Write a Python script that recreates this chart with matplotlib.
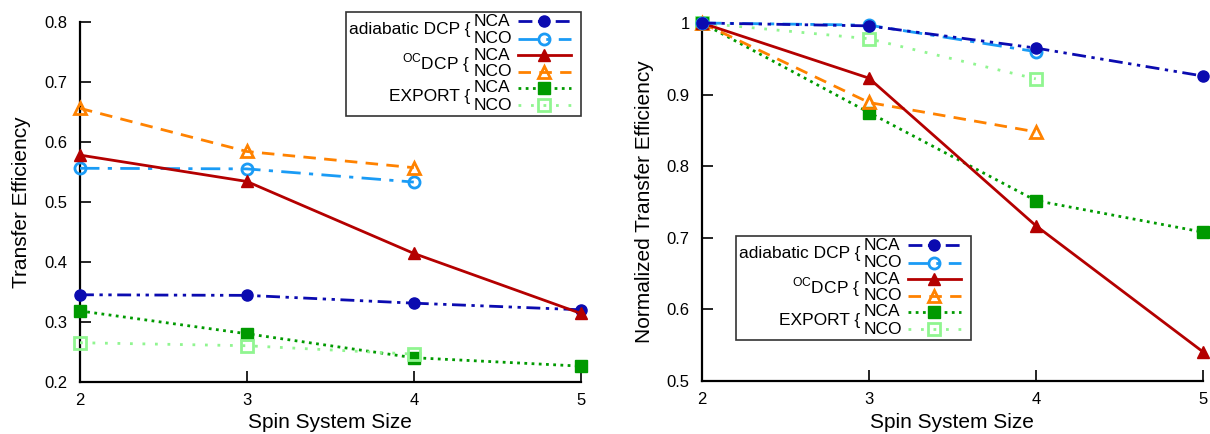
import matplotlib
matplotlib.use("Agg")
import matplotlib.pyplot as plt
from matplotlib.lines import Line2D

plt.rcParams['font.family'] = ['Liberation Sans', 'DejaVu Sans']
plt.rcParams['mathtext.fontset'] = 'custom'
plt.rcParams['mathtext.rm'] = 'Liberation Sans'

# ---------------- data ----------------
sizes = [2, 3, 4, 5]
sizes_nco = [2, 3, 4]

# absolute transfer efficiency
adia_nca = [0.345, 0.344, 0.331, 0.320]
adia_nco = [0.556, 0.555, 0.533]
oc_nca = [0.578, 0.534, 0.414, 0.314]
oc_nco = [0.656, 0.584, 0.557]
exp_nca = [0.318, 0.280, 0.240, 0.226]
exp_nco = [0.265, 0.260, 0.246]

# normalized transfer efficiency
adia_nca_n = [1.0, 0.996, 0.965, 0.926]
adia_nco_n = [1.0, 0.997, 0.960]
oc_nca_n = [1.0, 0.923, 0.717, 0.541]
oc_nco_n = [1.0, 0.889, 0.848]
exp_nca_n = [1.0, 0.875, 0.752, 0.708]
exp_nco_n = [1.0, 0.978, 0.922]

left_yticks = [0.2, 0.3, 0.4, 0.5, 0.6, 0.7, 0.8]
left_yticklabels = ['0.2', '0.3', '0.4', '0.5', '0.6', '0.7', '0.8']
right_yticks = [0.5, 0.6, 0.7, 0.8, 0.9, 1.0]
right_yticklabels = ['0.5', '0.6', '0.7', '0.8', '0.9', '1']
xticks = [2, 3, 4, 5]

# ---------------- styles ----------------
C_ADIA_NCA = '#0b0bb0'
C_ADIA_NCO = '#1a9bf5'
C_OC_NCA = '#b40000'
C_OC_NCO = '#ff8200'
C_EXP_NCA = '#009a00'
C_EXP_NCO = '#90f590'

styles = {
    'adia_nca': dict(color=C_ADIA_NCA, linestyle=(0, (5, 2, 1.2, 2, 1.2, 2)), marker='o',
                     markersize=8, markerfacecolor=C_ADIA_NCA, markeredgecolor=C_ADIA_NCA, linewidth=2),
    'adia_nco': dict(color=C_ADIA_NCO, linestyle=(0, (7, 3, 1.5, 3)), marker='o',
                     markersize=8, markerfacecolor='none', markeredgecolor=C_ADIA_NCO,
                     markeredgewidth=2, linewidth=2),
    'oc_nca': dict(color=C_OC_NCA, linestyle='-', marker='^', markersize=8,
                   markerfacecolor=C_OC_NCA, markeredgecolor=C_OC_NCA, linewidth=2),
    'oc_nco': dict(color=C_OC_NCO, linestyle=(0, (4.5, 3)), marker='^', markersize=8,
                   markerfacecolor='none', markeredgecolor=C_OC_NCO, markeredgewidth=2, linewidth=2),
    'exp_nca': dict(color=C_EXP_NCA, linestyle=(0, (1, 1.6)), marker='s', markersize=8,
                    markerfacecolor=C_EXP_NCA, markeredgecolor=C_EXP_NCA, linewidth=2),
    'exp_nco': dict(color=C_EXP_NCO, linestyle=(0, (1, 3.5)), marker='s', markersize=8,
                    markerfacecolor='none', markeredgecolor=C_EXP_NCO, markeredgewidth=2, linewidth=2),
}

W, H = 1210, 434
fig = plt.figure(figsize=(W / 100, H / 100), dpi=100)


def fx(px):
    return px / W


def fy(py):
    return 1 - py / H


ax1 = fig.add_axes([fx(80), fy(381.7), fx(580.7) - fx(80), fy(22) - fy(381.7)])
ax2 = fig.add_axes([fx(702), fy(381), fx(1202.7) - fx(702), fy(23) - fy(381)])


def setup(ax, yticks, yticklabels, ylim, ylabel, ylabelpad):
    ax.set_xlim(2, 5)
    ax.set_ylim(*ylim)
    ax.set_xticks(xticks)
    ax.set_xticklabels([str(v) for v in xticks])
    ax.set_yticks(yticks)
    ax.set_yticklabels(yticklabels)
    for s in ['top', 'right']:
        ax.spines[s].set_visible(False)
    for s in ['left', 'bottom']:
        ax.spines[s].set_linewidth(1.6)
        ax.spines[s].set_color('black')
    ax.tick_params(axis='both', direction='in', length=8, width=1.2, labelsize=12, color='black')
    ax.tick_params(axis='y', pad=9)
    ax.tick_params(axis='x', pad=8)
    ax.set_xlabel('Spin System Size', fontsize=15, labelpad=4)
    ax.set_ylabel(ylabel, fontsize=15, labelpad=ylabelpad)
    ax.set_facecolor('white')


setup(ax1, left_yticks, left_yticklabels, (0.2, 0.8), 'Transfer Efficiency', 9.5)
setup(ax2, right_yticks, right_yticklabels, (0.5, 1.0), 'Normalized Transfer Efficiency', 9)

ax1.plot(sizes, exp_nca, clip_on=False, zorder=3, **styles['exp_nca'])
ax1.plot(sizes_nco, exp_nco, clip_on=False, zorder=3, **styles['exp_nco'])
ax1.plot(sizes, adia_nca, clip_on=False, zorder=3, **styles['adia_nca'])
ax1.plot(sizes_nco, adia_nco, clip_on=False, zorder=3, **styles['adia_nco'])
ax1.plot(sizes, oc_nca, clip_on=False, zorder=3, **styles['oc_nca'])
ax1.plot(sizes_nco, oc_nco, clip_on=False, zorder=3, **styles['oc_nco'])

ax2.plot(sizes_nco, exp_nco_n, clip_on=False, zorder=3, **styles['exp_nco'])
ax2.plot(sizes, exp_nca_n, clip_on=False, zorder=3, **styles['exp_nca'])
ax2.plot(sizes_nco, oc_nco_n, clip_on=False, zorder=3, **styles['oc_nco'])
ax2.plot(sizes, oc_nca_n, clip_on=False, zorder=3, **styles['oc_nca'])
ax2.plot(sizes_nco, adia_nco_n, clip_on=False, zorder=3, **styles['adia_nco'])
ax2.plot(sizes, adia_nca_n, clip_on=False, zorder=3, **styles['adia_nca'])

# ---------------- custom legends ----------------
groups = [('adiabatic DCP {', 'adia_nca', 'adia_nco'),
          (r'$^{\mathrm{OC}}$DCP {', 'oc_nca', 'oc_nco'),
          ('EXPORT {', 'exp_nca', 'exp_nco')]
row_y = [21, 38.5, 55, 71.5, 88, 105]


def draw_legend(ox, oy):
    box = plt.Rectangle((fx(ox + 346), fy(oy + 115.5)), fx(235), 103.5 / H,
                        transform=fig.transFigure, facecolor='white',
                        edgecolor='#333333', linewidth=1.2, zorder=5)
    fig.add_artist(box)
    for gi, (label, k1, k2) in enumerate(groups):
        y1 = row_y[2 * gi] + oy
        y2 = row_y[2 * gi + 1] + oy
        fig.text(fx(ox + 470), fy((y1 + y2) / 2), label, ha='right', va='center',
                 fontsize=12.5, zorder=6)
        for yy, key, name in [(y1, k1, 'NCA'), (y2, k2, 'NCO')]:
            fig.text(fx(ox + 474), fy(yy), name, ha='left', va='center', fontsize=12.5, zorder=6)
            st = dict(styles[key])
            ln = Line2D([fx(ox + 518), fx(ox + 571)], [fy(yy), fy(yy)], transform=fig.transFigure,
                        zorder=6, **{k: v for k, v in st.items() if k != 'marker'})
            fig.add_artist(ln)
            mk = Line2D([fx(ox + 544)], [fy(yy)], transform=fig.transFigure, zorder=7,
                        linestyle='none', marker=st['marker'], markersize=st['markersize'],
                        markerfacecolor=st['markerfacecolor'], markeredgecolor=st['markeredgecolor'],
                        markeredgewidth=st.get('markeredgewidth', 1))
            fig.add_artist(mk)


draw_legend(0, 0)
draw_legend(390, 224)

fig.savefig('out.png', dpi=100, facecolor='white')
